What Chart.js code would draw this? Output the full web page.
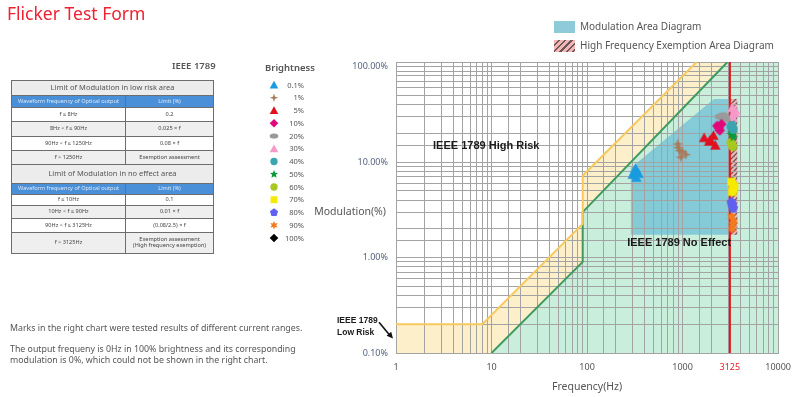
<!DOCTYPE html>
<html>
<head>
<meta charset="utf-8">
<script src="https://cdn.jsdelivr.net/npm/chart.js@4.4.1/dist/chart.umd.min.js"></script>
<style>
  html, body { margin: 0; padding: 0; background: #fff; }
  body { width: 800px; height: 397px; position: relative; overflow: hidden; font-family: "Noto Sans", sans-serif; color: #555; }
  #chart { position: absolute; left: 0; top: 0; }
  .abs { position: absolute; white-space: nowrap; }
  #title { left: 7px; top: 1px; font-size: 17.5px; color: #ee2233; }
  #ieee { left: 172px; top: 59px; font-size: 9.5px; font-weight: 600; }
  table { position: absolute; left: 11px; top: 80px; width: 203px; border-collapse: collapse; font-size: 5.6px; color: #444; }
  td { border: 1px solid #6d6d6d; text-align: center; padding: 0; line-height: 5.6px; }
  td.w { width: 113px; }
  tr.head td { background: #ececec; font-size: 7.5px; color: #555; }
  tr.blue td { background: #4a90d9; color: #dde8f5; }
  tr.g td { background: #efefef; }
  #notes { left: 10px; top: 323px; font-size: 8.8px; line-height: 11px; white-space: normal; width: 340px; }
  #notes p { margin: 0 0 10px 0; }
  #legend2 { left: 554px; top: 20px; font-size: 10px; }
  #legend2 div { height: 13px; margin-bottom: 6px; line-height: 13px; }
  #legend2 span.box { display: inline-block; width: 21px; height: 12px; vertical-align: middle; margin-right: 5px; }
</style>
</head>
<body>
<canvas id="chart" width="800" height="397"></canvas>
<div class="abs" id="title">Flicker Test Form</div>
<div class="abs" id="ieee">IEEE 1789</div>
<table>
  <tr class="head" style="height:15px"><td colspan="2">Limit of Modulation in low risk area</td></tr>
  <tr class="blue" style="height:12px"><td class="w">Waveform frequency of Optical output</td><td>Limit (%)</td></tr>
  <tr style="height:14px"><td>f ≤ 8Hz</td><td>0.2</td></tr>
  <tr class="g" style="height:15px"><td>8Hz &lt; f ≤ 90Hz</td><td>0.025 × f</td></tr>
  <tr style="height:14px"><td>90Hz &lt; f ≤ 1250Hz</td><td>0.08 × f</td></tr>
  <tr class="g" style="height:14px"><td>f &gt; 1250Hz</td><td>Exemption assessment</td></tr>
  <tr class="head" style="height:19px"><td colspan="2">Limit of Modulation in no effect area</td></tr>
  <tr class="blue" style="height:11px"><td>Waveform frequency of Optical output</td><td>Limit (%)</td></tr>
  <tr style="height:11px"><td>f ≤ 10Hz</td><td>0.1</td></tr>
  <tr class="g" style="height:13px"><td>10Hz &lt; f ≤ 90Hz</td><td>0.01 × f</td></tr>
  <tr style="height:14px"><td>90Hz &lt; f ≤ 3125Hz</td><td>(0.08/2.5) × f</td></tr>
  <tr class="g" style="height:21px"><td>f &gt; 3125Hz</td><td>Exemption assessment<br>(High frequency exemption)</td></tr>
</table>
<div class="abs" id="notes">
  <p>Marks in the right chart were tested results of different current ranges.</p>
  <p>The output frequeny is 0Hz in 100% brightness and its corresponding<br>modulation is 0%, which could not be shown in the right chart.</p>
</div>
<div class="abs" id="legend2">
  <div><span class="box" style="background:#8dcbd8"></span>Modulation Area Diagram</div>
  <div><span class="box" style="background:repeating-linear-gradient(135deg,#f3b5b5 0 3px,#6a5858 3px 4.5px)"></span>High Frequency Exemption Area Diagram</div>
</div>

<script>
// frequency axis (Hz) and modulation axis (%)
const freqLabels = [1, 10, 100, 1000, 3125, 10000];
const modLabels = [0.1, 1, 10, 100];
const axisMaxFreq = 10000;
const axisMaxMod = 112;

// IEEE 1789 low risk limit line
const lowRiskFreq = [1, 8, 90, 90, 1400];
const lowRiskMod = [0.2, 0.2, 2.25, 7.2, 112];

// IEEE 1789 no effect limit line
const noEffectFreq = [10, 90, 90, 2950];
const noEffectMod = [0.1, 0.9, 3, 112];

// modulation area diagram (upper edge, filled down to its floor)
const modAreaFreq = [286, 2130, 3125];
const modAreaMod = [8.7, 46, 46];
const modAreaFloor = 1.73;

// high frequency exemption area
const exemptFreq = [3125, 3760];
const exemptMod = [46, 46];
const exemptFloor = 1.73;

const cutoffFreq = 3125;

// tested results by brightness
const brightness = ['0.1%', '1%', '5%', '10%', '20%', '30%', '40%', '50%', '60%', '70%', '80%', '90%', '100%'];
const pointFreq = [
  [300, 322, 345, 328, 312],
  [890, 930, 1000, 1080, 960, 900],
  [1680, 1900, 2100, 2200, 1950],
  [2300, 2450, 2550, 2400],
  [2450, 2650, 2800, 2600],
  [3300, 3480, 3300, 3550],
  [3200, 3380, 3300],
  [3250, 3400, 3300],
  [3200, 3350, 3280],
  [3250, 3450, 3300, 3400],
  [3250, 3380, 3300],
  [3250, 3420, 3300, 3350],
  []
];
const pointMod = [
  [7.4, 8.6, 7.6, 6.9, 8.0],
  [15.5, 13.2, 12.8, 12.0, 11.3, 14.2],
  [18, 16.5, 19, 15, 17.2],
  [24, 21.5, 25, 22.8],
  [30, 31, 28, 29.5],
  [37, 33, 30, 35],
  [23.5, 22, 24.5],
  [19.5, 18.3, 20.5],
  [16, 14.5, 15.2],
  [6.2, 5.6, 4.9, 5.2],
  [3.8, 3.3, 3.55],
  [2.7, 2.4, 2.0, 2.25],
  []
];

const markerColors = ['#1a9be0', '#a97a5a', '#e0101e', '#e0087a', '#9a9a9a', '#f59ac8', '#3aa5b0', '#0a9a3a', '#a8c820', '#f5ea00', '#6060f0', '#f57a20', '#000000'];
const markerShapes = ['triangle', 'star4', 'triangle', 'diamond', 'ellipse', 'triangle', 'circle', 'star5', 'circle', 'square', 'pentagon', 'star6', 'diamond'];

function starPath(ctx, cx, cy, n, ro, ri) {
  for (let i = 0; i < n * 2; i++) {
    const a = -Math.PI / 2 + i * Math.PI / n;
    const r = i % 2 ? ri : ro;
    ctx.lineTo(cx + r * Math.cos(a), cy + r * Math.sin(a));
  }
}

function drawShape(ctx, shape, color, cx, cy, r) {
  ctx.fillStyle = color;
  ctx.beginPath();
  if (shape === 'triangle') {
    ctx.moveTo(cx, cy - r);
    ctx.lineTo(cx + r, cy + r * 0.8);
    ctx.lineTo(cx - r, cy + r * 0.8);
  } else if (shape === 'star4') {
    starPath(ctx, cx, cy, 4, r, r * 0.35);
  } else if (shape === 'diamond') {
    ctx.moveTo(cx, cy - r);
    ctx.lineTo(cx + r, cy);
    ctx.lineTo(cx, cy + r);
    ctx.lineTo(cx - r, cy);
  } else if (shape === 'ellipse') {
    ctx.ellipse(cx, cy, r, r * 0.6, 0, 0, Math.PI * 2);
  } else if (shape === 'circle') {
    ctx.arc(cx, cy, r * 0.85, 0, Math.PI * 2);
  } else if (shape === 'star5') {
    starPath(ctx, cx, cy, 5, r, r * 0.45);
  } else if (shape === 'square') {
    ctx.rect(cx - r * 0.8, cy - r * 0.8, r * 1.6, r * 1.6);
  } else if (shape === 'pentagon') {
    for (let i = 0; i < 5; i++) {
      const a = -Math.PI / 2 + i * 2 * Math.PI / 5;
      ctx.lineTo(cx + r * Math.cos(a), cy + r * Math.sin(a));
    }
  } else if (shape === 'star6') {
    starPath(ctx, cx, cy, 6, r, r * 0.5);
  }
  ctx.closePath();
  ctx.fill();
}

function makeMarker(shape, color, r) {
  const c = document.createElement('canvas');
  c.width = c.height = Math.ceil(r * 2 + 2);
  drawShape(c.getContext('2d'), shape, color, c.width / 2, c.height / 2, r);
  return c;
}

function hatchPattern() {
  const tile = document.createElement('canvas');
  tile.width = tile.height = 5;
  const t = tile.getContext('2d');
  t.fillStyle = '#f3b5b5';
  t.fillRect(0, 0, 5, 5);
  t.strokeStyle = '#6a5858';
  t.lineWidth = 1.3;
  t.beginPath();
  t.moveTo(-1, 6); t.lineTo(6, -1);
  t.moveTo(-1, 1); t.lineTo(1, -1);
  t.moveTo(4, 6); t.lineTo(6, 4);
  t.stroke();
  return t.createPattern(tile, 'repeat');
}

const pts = (xs, ys) => xs.map((x, i) => ({ x: x, y: ys[i] }));
const isLabel = (v, list) => list.some(l => Math.abs(v - l) / l < 1e-6);
// same limit line carried along the top edge to the right end, for the fills
const toTopRight = (xs, ys) => pts(xs, ys).concat([{ x: axisMaxFreq, y: axisMaxMod }]);

const datasets = [
  { data: toTopRight(lowRiskFreq, lowRiskMod), showLine: true, pointRadius: 0, borderWidth: 0,
    backgroundColor: '#fdefc9', fill: 'start', order: 20 },
  { data: toTopRight(noEffectFreq, noEffectMod), showLine: true, pointRadius: 0, borderWidth: 0,
    backgroundColor: '#c9eedb', fill: 'start', order: 19 },
  { data: pts(modAreaFreq, modAreaMod), showLine: true, pointRadius: 0, borderWidth: 0,
    backgroundColor: 'rgba(118,194,214,0.82)', fill: { value: modAreaFloor }, order: 18 },
  { data: pts(exemptFreq, exemptMod), showLine: true, pointRadius: 0, borderWidth: 0,
    backgroundColor: hatchPattern(), fill: { value: exemptFloor }, order: 17, gridAfter: true },
  { data: pts(lowRiskFreq, lowRiskMod), showLine: true, pointRadius: 0, borderWidth: 2,
    borderColor: '#f7c95c', fill: false, order: 15 },
  { data: pts(noEffectFreq, noEffectMod), showLine: true, pointRadius: 0, borderWidth: 2,
    borderColor: '#3f9a5e', fill: false, order: 15 },
  { data: [{ x: cutoffFreq, y: 0.1 }, { x: cutoffFreq, y: axisMaxMod }], showLine: true, pointRadius: 0,
    borderWidth: 2, borderColor: '#e3141c', fill: false, order: 14 }
];

brightness.forEach((b, i) => {
  datasets.push({
    label: b,
    data: pts(pointFreq[i], pointMod[i]),
    pointStyle: makeMarker(markerShapes[i], markerColors[i], 5.2),
    order: 1
  });
});

// redraw the grid over the coloured areas, the way the reference shows it
const gridOnTop = {
  id: 'gridOnTop',
  afterDatasetDraw(chart, args) {
    if (chart.data.datasets[args.index].gridAfter) {
      const ctx = chart.ctx;
      ctx.save();
      chart.scales.x.drawGrid(chart.chartArea);
      chart.scales.y.drawGrid(chart.chartArea);
      ctx.restore();
    }
  }
};

const notes = {
  id: 'notes',
  afterDraw(chart) {
    const { ctx, chartArea, scales: { x, y } } = chart;
    ctx.save();
    ctx.fillStyle = '#1a1a1a';
    ctx.textAlign = 'center';
    ctx.textBaseline = 'middle';
    ctx.font = 'bold 11px "Liberation Sans"';
    ctx.fillText('IEEE 1789 High Risk', x.getPixelForValue(8.8), y.getPixelForValue(14.9));
    ctx.fillText('IEEE 1789 No Effect', x.getPixelForValue(920), y.getPixelForValue(1.43));

    // low risk label with arrow
    const lx = chartArea.left - 59;
    ctx.textAlign = 'left';
    ctx.font = 'bold 8.5px "Liberation Sans"';
    ctx.fillText('IEEE 1789', lx, y.getPixelForValue(0.217));
    ctx.fillText('Low Risk', lx, y.getPixelForValue(0.162));
    const ax0 = chartArea.left - 17, ay0 = y.getPixelForValue(0.21);
    const ax1 = chartArea.left - 3, ay1 = y.getPixelForValue(0.142);
    ctx.strokeStyle = '#111';
    ctx.lineWidth = 1.6;
    ctx.beginPath();
    ctx.moveTo(ax0, ay0);
    ctx.lineTo(ax1 - 3, ay1 - 3);
    ctx.stroke();
    const ang = Math.atan2(ay1 - ay0, ax1 - ax0);
    ctx.beginPath();
    ctx.moveTo(ax1, ay1);
    ctx.lineTo(ax1 - 7 * Math.cos(ang - 0.45), ay1 - 7 * Math.sin(ang - 0.45));
    ctx.lineTo(ax1 - 7 * Math.cos(ang + 0.45), ay1 - 7 * Math.sin(ang + 0.45));
    ctx.closePath();
    ctx.fillStyle = '#111';
    ctx.fill();

    // y axis caption
    ctx.fillStyle = '#555';
    ctx.textAlign = 'right';
    ctx.font = '10.5px "Noto Sans"';
    ctx.fillText('Modulation(%)', chartArea.left - 10, y.getPixelForValue(3));

    // brightness legend
    ctx.textAlign = 'center';
    ctx.font = '600 9.5px "Noto Sans"';
    ctx.fillText('Brightness', 290, 68);
    ctx.font = '7.5px "Noto Sans"';
    ctx.textAlign = 'right';
    brightness.forEach((b, i) => {
      const cy = 85 + i * 12.75;
      drawShape(ctx, markerShapes[i], markerColors[i], 274, cy, 4.3);
      ctx.fillStyle = '#555';
      ctx.fillText(b, 304, cy + 0.5);
    });
    ctx.restore();
  }
};

new Chart(document.getElementById('chart'), {
  type: 'scatter',
  data: { datasets: datasets },
  options: {
    responsive: false,
    animation: false,
    events: [],
    layout: { padding: { left: 330, right: 18, top: 62, bottom: 0 } },
    plugins: { legend: { display: false }, tooltip: { enabled: false } },
    scales: {
      x: {
        type: 'logarithmic',
        min: 1,
        max: axisMaxFreq,
        afterBuildTicks: s => {
          s.ticks.push({ value: cutoffFreq });
          s.ticks.sort((a, b) => a.value - b.value);
        },
        afterFit: s => { s.height = 44; },
        grid: { color: '#a3a3a3', lineWidth: 1, drawTicks: false },
        border: { color: '#a3a3a3' },
        ticks: {
          autoSkip: false,
          maxRotation: 0,
          padding: 9,
          font: { family: 'Noto Sans', size: 9 },
          color: c => (c.tick && c.tick.value === cutoffFreq ? '#e8202a' : '#555'),
          callback: v => (isLabel(v, freqLabels) ? String(Math.round(v)) : '')
        },
        title: { display: true, text: 'Frequency(Hz)', color: '#555', font: { family: 'Noto Sans', size: 10.5 }, padding: { top: 4, bottom: 4 } }
      },
      y: {
        type: 'logarithmic',
        min: 0.1,
        max: axisMaxMod,
        afterFit: s => { s.width = 66; },
        grid: { color: '#a3a3a3', lineWidth: 1, drawTicks: false },
        border: { color: '#a3a3a3' },
        ticks: {
          autoSkip: false,
          padding: 8,
          font: { family: 'Noto Sans', size: 9 },
          color: '#55627e',
          callback: v => (isLabel(v, modLabels) ? v.toFixed(2) + '%' : '')
        }
      }
    }
  },
  plugins: [gridOnTop, notes]
});
</script>
</body>
</html>
